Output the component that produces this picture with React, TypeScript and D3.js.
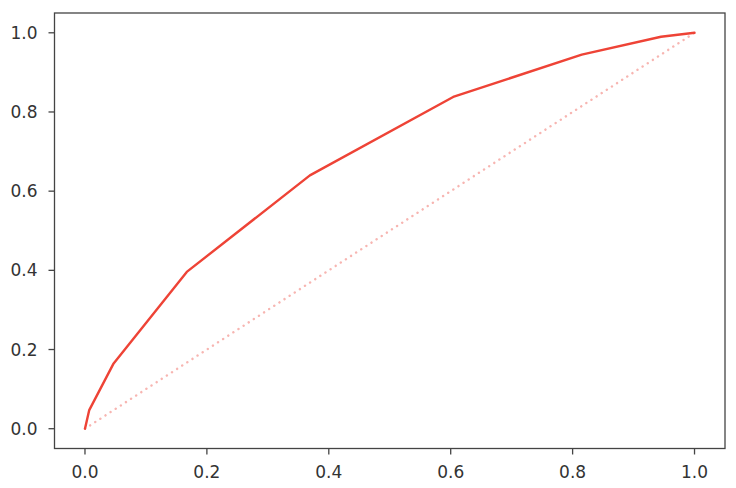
import React from "react";
import * as d3 from "d3";

const fpr = [0, 0.007, 0.047, 0.167, 0.369, 0.604, 0.815, 0.945, 1];
const tpr = [0, 0.047, 0.165, 0.396, 0.64, 0.838, 0.945, 0.99, 1];
const diagX = [0, 1];
const diagY = [0, 1];
const xTicks = [0, 0.2, 0.4, 0.6, 0.8, 1.0];
const yTicks = [0, 0.2, 0.4, 0.6, 0.8, 1.0];

export default function App() {
  const W = 736, H = 488;
  const left = 54.5, right = 725, top = 13, bottom = 448.5;
  const x = d3.scaleLinear().domain([-0.05, 1.05]).range([left, right]);
  const y = d3.scaleLinear().domain([-0.05, 1.05]).range([bottom, top]);
  const line = d3.line<[number, number]>().x(d => x(d[0])).y(d => y(d[1]));
  const roc = fpr.map((v, i) => [v, tpr[i]] as [number, number]);
  const diag = diagX.map((v, i) => [v, diagY[i]] as [number, number]);
  const font = "DejaVu Sans, sans-serif";
  const axisColor = "#444";
  return (
    <svg width={W} height={H} style={{ position: "absolute", left: 0, top: 0, background: "#fff" }}>
      <path d={line(diag) || ""} fill="none" stroke="#f7b5b1" strokeWidth={2.4} strokeDasharray="0.1,6" strokeLinecap="round" />
      <path d={line(roc) || ""} fill="none" stroke="#ee4336" strokeWidth={2.4} strokeLinejoin="round" strokeLinecap="round" />
      <rect x={left} y={top} width={right - left} height={bottom - top} fill="none" stroke={axisColor} strokeWidth={1.3} />
      {xTicks.map(t => (
        <g key={"x" + t}>
          <line x1={x(t)} x2={x(t)} y1={bottom} y2={bottom + 6} stroke={axisColor} strokeWidth={1.3} />
          <text x={x(t)} y={bottom + 29} textAnchor="middle" fontFamily={font} fontSize={17} fill="#333">{t.toFixed(1)}</text>
        </g>
      ))}
      {yTicks.map(t => (
        <g key={"y" + t}>
          <line x1={left - 6} x2={left} y1={y(t)} y2={y(t)} stroke={axisColor} strokeWidth={1.3} />
          <text x={37.5} y={y(t) + 6} textAnchor="end" fontFamily={font} fontSize={17} fill="#333">{t.toFixed(1)}</text>
        </g>
      ))}
    </svg>
  );
}
